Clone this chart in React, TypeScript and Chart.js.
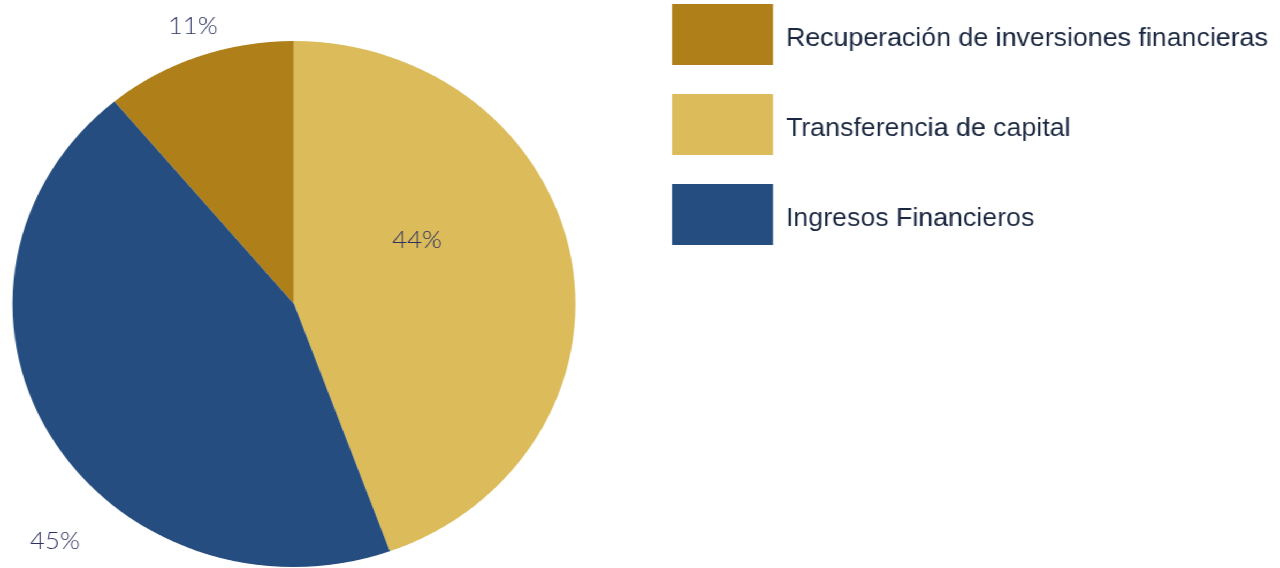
import React, { useEffect, useRef } from "react";
import { Chart, registerables } from "chart.js";

Chart.register(...registerables);

// Data (legend order)
const categories = [
  "Recuperación de inversiones financieras",
  "Transferencia de capital",
  "Ingresos Financieros",
];
const values = [11.01, 44.47, 44.52];
const colors = ["#AF7F19", "#DBBB5A", "#254D7F"];
// label placement relative to each slice: angle shift (deg) and radius factor
const labelAngleShift = [1, -19, -17];
const labelRadiusFactor = [1.114, 0.5, 1.24];

const SCREEN_W = 1280;
const H = 568;
const STRETCH = 281.5 / 263; // the reference pie is horizontally stretched
const W = Math.round(SCREEN_W / STRETCH);

const pctLabels = {
  id: "pctLabels",
  afterDatasetsDraw(chart: any) {
    const ctx = chart.ctx;
    const meta = chart.getDatasetMeta(0);
    const data = chart.data.datasets[0].data as number[];
    const total = data.reduce((a, b) => a + b, 0);
    ctx.save();
    ctx.font = "300 24px Lato, 'Noto Sans', sans-serif";
    ctx.fillStyle = "#2C3162";
    ctx.textAlign = "center";
    ctx.textBaseline = "middle";
    meta.data.forEach((arc: any, i: number) => {
      const { x, y, startAngle, endAngle, outerRadius } = arc.getProps(
        ["x", "y", "startAngle", "endAngle", "outerRadius"],
        true
      );
      const mid = (startAngle + endAngle) / 2 + (labelAngleShift[i] * Math.PI) / 180;
      const r = outerRadius * labelRadiusFactor[i];
      const lx = x + Math.cos(mid) * r;
      const ly = y + Math.sin(mid) * r;
      ctx.fillText(Math.round((data[i] / total) * 100) + "%", lx, ly);
    });
    ctx.restore();
  },
};

const boxLegend = {
  id: "boxLegend",
  afterDraw(chart: any) {
    const ctx = chart.ctx;
    const labels = chart.data.labels as string[];
    const bg = chart.data.datasets[0].backgroundColor as string[];
    const boxX = 627.9;
    const boxW = 94.4;
    const boxH = 61;
    const top = 4;
    const step = 90;
    ctx.save();
    ctx.font = "25px 'Liberation Sans', Arial, sans-serif";
    ctx.textAlign = "left";
    ctx.textBaseline = "alphabetic";
    labels.forEach((label, i) => {
      const y = top + i * step;
      ctx.fillStyle = bg[i];
      ctx.fillRect(boxX, y, boxW, boxH);
      ctx.fillStyle = "#1A2740";
      ctx.fillText(label, boxX + boxW + 12.1, y + 42);
    });
    ctx.restore();
  },
};

export default function App() {
  const ref = useRef<HTMLCanvasElement | null>(null);
  useEffect(() => {
    if (!ref.current) return;
    const total = values.reduce((a, b) => a + b, 0);
    const chart = new Chart(ref.current, {
      type: "pie",
      data: {
        labels: categories,
        datasets: [
          {
            data: values,
            backgroundColor: colors,
            borderWidth: 0,
          },
        ],
      },
      options: {
        responsive: false,
        animation: false,
        rotation: -(values[0] / total) * 360,
        layout: {
          padding: { left: 0, top: 41, bottom: 1, right: W - 2 * 274.7 },
        },
        plugins: {
          legend: { display: false },
          tooltip: { enabled: false },
        },
      },
      plugins: [pctLabels, boxLegend],
    });
    return () => chart.destroy();
  }, []);

  return (
    <div
      style={{
        position: "absolute",
        left: 0,
        top: 0,
        width: W,
        height: H,
        transform: `scaleX(${SCREEN_W / W})`,
        transformOrigin: "0 0",
        background: "#fff",
      }}
    >
      <canvas ref={ref} width={W} height={H} style={{ width: W, height: H, display: "block" }} />
    </div>
  );
}
